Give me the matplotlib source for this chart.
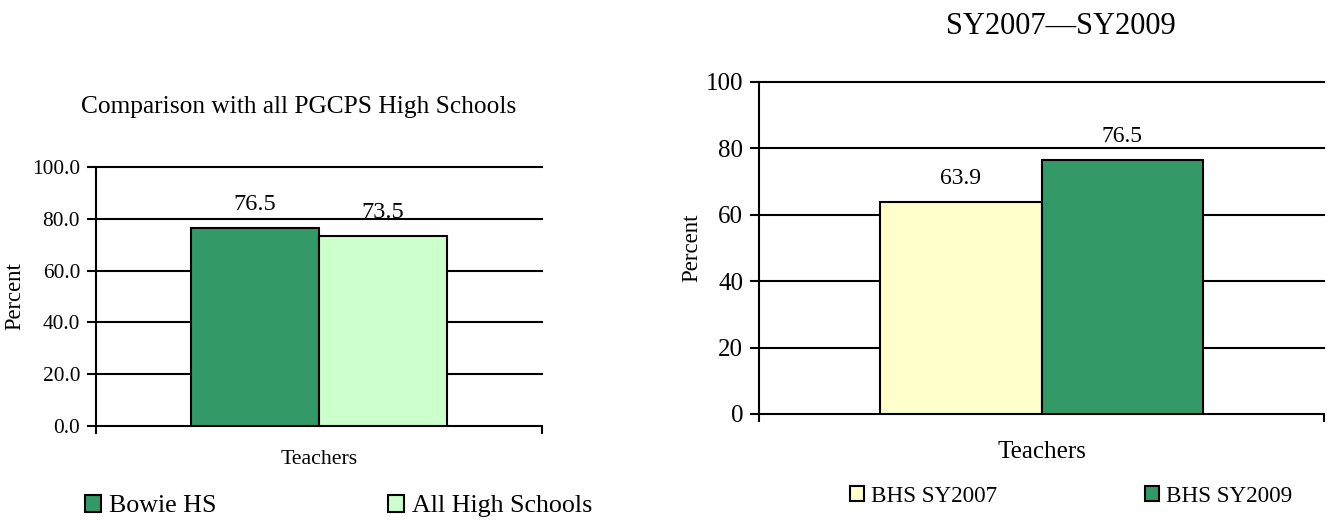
import matplotlib
matplotlib.use("Agg")
import matplotlib.pyplot as plt
import numpy as np

plt.rcParams['font.family'] = ['Liberation Serif', 'DejaVu Serif']

# Left chart data
left_series = ["Bowie HS", "All High Schools"]
left_values = [76.5, 73.5]
left_colors = ["#339966", "#CCFFCC"]
left_ticks = [0, 20, 40, 60, 80, 100]
left_ticklabels = ["0.0", "20.0", "40.0", "60.0", "80.0", "100.0"]

# Right chart data
right_series = ["BHS SY2007", "BHS SY2009"]
right_values = [63.9, 76.5]
right_colors = ["#FFFFCC", "#339966"]
right_ticks = [0, 20, 40, 60, 80, 100]
right_ticklabels = ["0", "20", "40", "60", "80", "100"]

category = "Teachers"

W, H = 1333, 521
fig = plt.figure(figsize=(W / 100, H / 100), dpi=100)


def draw(ax, series, values, colors, ticks, ticklabels, tickfs, valfs, xlabfs, ylabfs):
    w = 0.286
    n = len(values)
    offsets = (np.arange(n) - (n - 1) / 2) * w
    handles = []
    for i in range(n):
        b = ax.bar(offsets[i], values[i], width=w, color=colors[i], edgecolor="black",
                   linewidth=1.5, zorder=3, label=series[i])
        handles.append(b)
        ax.annotate(f"{values[i]:.1f}", (offsets[i], values[i]), xytext=(0, 17),
                    textcoords="offset points", ha="center", va="center",
                    fontsize=valfs, zorder=0.5)
    ax.set_xlim(-0.5, 0.5)
    ax.set_ylim(0, 100)
    for t in ticks[1:]:
        ax.axhline(t, color="black", lw=1.5, zorder=1, clip_on=False)
    ax.set_yticks(ticks)
    ax.set_yticklabels(ticklabels, fontsize=tickfs)
    ax.set_xticks([-0.5, 0.5])
    ax.set_xticklabels(["", ""])
    ax.tick_params(axis="y", direction="out", length=6.5, width=1.5, pad=5)
    ax.tick_params(axis="x", direction="out", length=6, width=1.5)
    for s in ["top", "right"]:
        ax.spines[s].set_visible(False)
    for s in ["left", "bottom"]:
        ax.spines[s].set_linewidth(1.5)
    ax.set_xlabel(category, fontsize=xlabfs)
    ax.xaxis.label.set_va("center")
    ax.set_ylabel("Percent", fontsize=ylabfs)
    ax.yaxis.label.set_va("center")
    return handles


def legend_entry(handle, label, x_px, y_px, fs):
    fig.legend(handles=[handle], labels=[label], loc="center left",
               bbox_to_anchor=(x_px / W, 1 - y_px / H), frameon=False,
               fontsize=fs, handlelength=0.62, handleheight=0.62,
               handletextpad=0.3, borderpad=0, borderaxespad=0)


# Left chart (x 96-542, y 167-426 px)
ax1 = fig.add_axes([96 / W, 1 - 426 / H, 446 / W, 259 / H])
h1 = draw(ax1, left_series, left_values, left_colors, left_ticks, left_ticklabels,
          15.4, 17.5, 15.7, 16.3)
ax1.xaxis.set_label_coords(0.5, -33 / 259)
ax1.yaxis.set_label_coords((15 - 96) / 446, 0.5)
fig.text(299 / W, 1 - 107 / H, "Comparison with all PGCPS High Schools",
         ha="center", va="center", fontsize=18.3)
legend_entry(h1[0], left_series[0], 85, 506, 18.7)
legend_entry(h1[1], left_series[1], 388, 506, 18.7)

# Right chart (x 759-1324, y 82-414 px)
ax2 = fig.add_axes([759 / W, 1 - 414 / H, 565 / W, 332 / H])
h2 = draw(ax2, right_series, right_values, right_colors, right_ticks, right_ticklabels,
          18, 17, 18, 16.5)
ax2.xaxis.set_label_coords(0.5, -38 / 332)
ax2.yaxis.set_label_coords((692 - 759) / 565, 0.5)
fig.text(1061 / W, 1 - 27 / H, "SY2007\u2014SY2009",
         ha="center", va="center", fontsize=22)
legend_entry(h2[0], right_series[0], 850, 496, 16.7)
legend_entry(h2[1], right_series[1], 1145, 496, 16.7)

fig.savefig("out.png", dpi=100)
